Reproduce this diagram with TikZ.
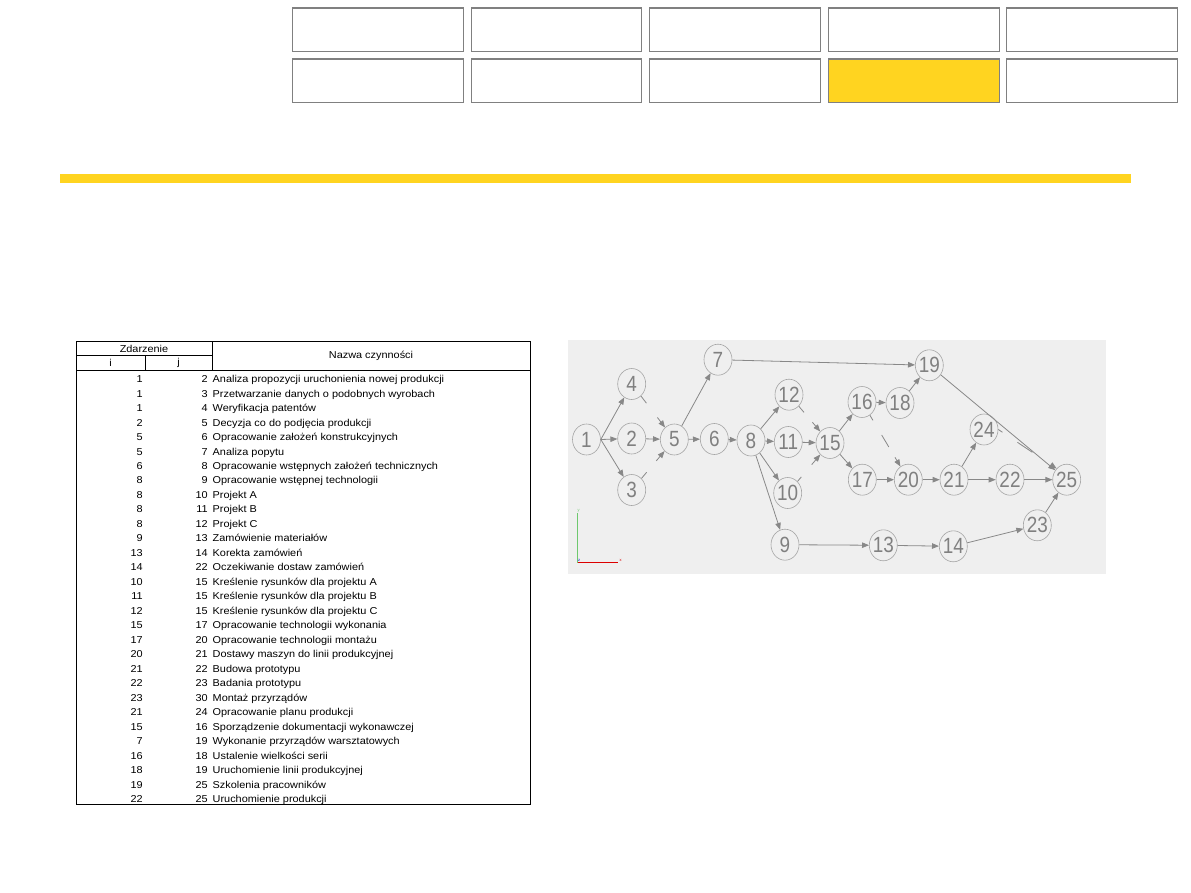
\documentclass[tikz,border=0pt]{standalone}
\usepackage{fontspec}
\setmainfont{Liberation Sans}
\newfontfamily\tabfont[FakeStretch=1.09]{Liberation Sans}
\newfontfamily\numfont[FakeStretch=0.86]{Liberation Sans}
\usetikzlibrary{arrows.meta,shapes.geometric}
\definecolor{ylw}{RGB}{255,212,32}
\definecolor{btnborder}{RGB}{128,128,128}
\definecolor{panelbg}{RGB}{239,239,239}
\definecolor{circc}{RGB}{165,165,165}
\definecolor{numc}{RGB}{128,128,128}
\definecolor{edgec}{RGB}{136,136,136}
\definecolor{axgreen}{RGB}{110,200,110}
\definecolor{axred}{RGB}{220,0,0}
\definecolor{axblue}{RGB}{0,0,220}
\begin{document}
\begin{tikzpicture}[x=1pt,y=-1pt,
  btn/.style={draw=btnborder,line width=1.2pt,minimum width=170.5pt,minimum height=43.5pt,inner sep=0pt},
  tab/.style={font=\tabfont\fontsize{10}{12}\selectfont,inner sep=0pt},
  ev/.style={ellipse,draw=circc,line width=0.6pt,minimum width=28pt,minimum height=31pt,inner sep=0pt,
    font=\numfont\fontsize{22}{22}\selectfont,text=numc},
  ar/.style={draw=edgec,line width=0.8pt,-{Triangle[length=7pt,width=5.5pt]}},
  tline/.style={draw=black,line width=0.8pt}]
\useasboundingbox (0,0) rectangle (1191,893);
\fill[white] (0,0) rectangle (1191,893);
% top buttons
\foreach \cx [count=\c] in {378,556.5,735,914,1092}{
  \node[btn] (btnA\c) at (\cx,29.8) {};
  \node[btn] (btnB\c) at (\cx,80.8) {};
}
\node[btn,fill=ylw] (btnsel) at (914,80.8) {};
% yellow bar
\fill[ylw] (60,174) rectangle (1131,183);
% table
\draw[tline] (76,341) rectangle (530,804);
\draw[tline] (76,355) -- (212,355);
\draw[tline] (212,341) -- (212,370.5);
\draw[tline] (145,355) -- (145,370.5);
\draw[draw=black,line width=1pt] (76,370.5) -- (530,370.5);
\node[tab] (hz) at (144,348.5) {Zdarzenie};
\node[tab] (hi) at (110.5,363) {i};
\node[tab] (hj) at (178.5,363) {j};
\node[tab] (hn) at (371,356) {Nazwa czynności};
\foreach \i/\j/\nm [count=\k from 0] in {
 1/2/Analiza propozycji uruchonienia nowej produkcji,
 1/3/Przetwarzanie danych o podobnych wyrobach,
 1/4/Weryfikacja patentów,
 2/5/Decyzja co do podjęcia produkcji,
 5/6/Opracowanie założeń konstrukcyjnych,
 5/7/Analiza popytu,
 6/8/Opracowanie wstępnych założeń technicznych,
 8/9/Opracowanie wstępnej technologii,
 8/10/Projekt A,
 8/11/Projekt B,
 8/12/Projekt C,
 9/13/Zamówienie materiałów,
 13/14/Korekta zamówień,
 14/22/Oczekiwanie dostaw zamówień,
 10/15/Kreślenie rysunków dla projektu A,
 11/15/Kreślenie rysunków dla projektu B,
 12/15/Kreślenie rysunków dla projektu C,
 15/17/Opracowanie technologii wykonania,
 17/20/Opracowanie technologii montażu,
 20/21/Dostawy maszyn do linii produkcyjnej,
 21/22/Budowa prototypu,
 22/23/Badania prototypu,
 23/30/Montaż przyrządów,
 21/24/Opracowanie planu produkcji,
 15/16/Sporządzenie dokumentacji wykonawczej,
 7/19/Wykonanie przyrządów warsztatowych,
 16/18/Ustalenie wielkości serii,
 18/19/Uruchomienie linii produkcyjnej,
 19/25/Szkolenia pracowników,
 22/25/Uruchomienie produkcji}{
  \pgfmathsetmacro{\yb}{379+3.6+\k*14.48}
  \node[tab,anchor=base east] (ti\k) at (143,\yb) {\i};
  \node[tab,anchor=base east] (tj\k) at (208,\yb) {\j};
  \node[tab,anchor=base west] (tn\k) at (212.5,\yb) {\nm};
}
% graph panel
\fill[panelbg] (568,340) rectangle (1106,574);
\node[ev] (n1) at (586.5,439.5) {\makebox[0pt]{1}};
\node[ev] (n2) at (631.7,438.5) {\makebox[0pt]{2}};
\node[ev] (n3) at (631.7,490) {\makebox[0pt]{3}};
\node[ev] (n4) at (631.7,384) {\makebox[0pt]{4}};
\node[ev] (n5) at (674.3,439.5) {\makebox[0pt]{5}};
\node[ev] (n6) at (714.3,439) {\makebox[0pt]{6}};
\node[ev] (n7) at (718,359.7) {\makebox[0pt]{7}};
\node[ev] (n8) at (751,440.5) {\makebox[0pt]{8}};
\node[ev] (n12) at (789,394.7) {\makebox[0pt]{12}};
\node[ev] (n11) at (788.3,442) {\makebox[0pt]{11}};
\node[ev] (n10) at (787.7,493) {\makebox[0pt]{10}};
\node[ev] (n9) at (785,544.7) {\makebox[0pt]{9}};
\node[ev] (n15) at (830,443) {\makebox[0pt]{15}};
\node[ev] (n16) at (862,402) {\makebox[0pt]{16}};
\node[ev] (n18) at (900,403) {\makebox[0pt]{18}};
\node[ev] (n19) at (929.3,365.3) {\makebox[0pt]{19}};
\node[ev] (n17) at (862.3,479.7) {\makebox[0pt]{17}};
\node[ev] (n20) at (908.3,479.7) {\makebox[0pt]{20}};
\node[ev] (n21) at (954,479.7) {\makebox[0pt]{21}};
\node[ev] (n24) at (984,429.5) {\makebox[0pt]{24}};
\node[ev] (n22) at (1010,479.7) {\makebox[0pt]{22}};
\node[ev] (n25) at (1066.7,479.7) {\makebox[0pt]{25}};
\node[ev] (n23) at (1037.3,525.3) {\makebox[0pt]{23}};
\node[ev] (n13) at (883.3,545.3) {\makebox[0pt]{13}};
\node[ev] (n14) at (953.3,546.3) {\makebox[0pt]{14}};
% edges
\draw[ar] (n1.east) -- (n2);
\draw[ar] (n1.east) -- (n4);
\draw[ar] (n1.east) -- (n3);
\draw[ar] (n2) -- (n5);
\draw[ar] (n5) -- (n6);
\draw[ar] (n5) -- (n7);
\draw[ar] (n6) -- (n8);
\draw[ar] (n8) -- (n12);
\draw[ar] (n8) -- (n11);
\draw[ar] (n8) -- (n10);
\draw[ar] (n8) -- (n9);
\draw[ar] (n11) -- (n15);
\draw[ar] (n15) -- (n16);
\draw[ar] (n15) -- (n17);
\draw[ar] (n16) -- (n18);
\draw[ar] (n17) -- (n20);
\draw[ar] (n20) -- (n21);
\draw[ar] (n21) -- (n24);
\draw[ar] (n21) -- (n22);
\draw[ar] (n22) -- (n25);
\draw[ar] (n23) -- (n25);
\draw[ar] (n7) -- (n19);
\draw[ar] (n18) -- (n19);
\draw[ar] (n19) -- (n25);
\draw[ar] (n9) -- (n13);
\draw[ar] (n13) -- (n14);
\draw[ar] (n14) -- (n23);
% broken edges
\draw[ar,dash pattern=on 9pt off 18pt on 30pt] (n4) -- (n5);
\draw[ar,dash pattern=on 8pt off 15pt on 30pt] (n3) -- (n5);
\draw[ar,dash pattern=on 8pt off 13pt on 30pt] (n12) -- (n15);
\draw[ar,dash pattern=on 6pt off 16pt on 30pt] (n10) -- (n15);
\draw[ar,dash pattern=on 6pt off 17pt on 14pt off 12pt on 20pt] (n16) -- (n20);
\draw[ar,dash pattern=on 5pt off 18pt on 18pt off 40pt] (n24.east) -- (n25.north west);
% axis indicator
\coordinate (ax0) at (577.5,562.5);
\coordinate (axy) at (577.5,512.5);
\coordinate (axx) at (618,562.5);
\draw[axgreen,line width=1pt] (ax0) -- (axy);
\draw[axred,line width=1pt] (ax0) -- (axx);
\node[font=\fontsize{4}{4}\selectfont,text=axgreen,inner sep=0pt] (ly) at (578.5,510.5) {y};
\node[font=\fontsize{4}{4}\selectfont,text=axred,inner sep=0pt] (lx) at (620.5,560.5) {x};
\node[font=\fontsize{4}{4}\selectfont,text=axblue,inner sep=0pt] (lz) at (579,560) {z};
\end{tikzpicture}
\end{document}
